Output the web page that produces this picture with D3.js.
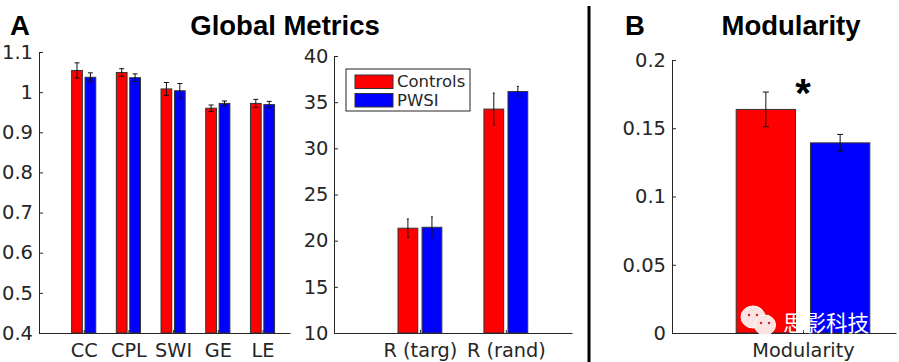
<!DOCTYPE html>
<html>
<head>
<meta charset="utf-8">
<script src="https://cdn.jsdelivr.net/npm/d3@7"></script>
<style>
  html, body { margin: 0; background: #fff; }
  svg { display: block; }
  .tick text { font-family: "DejaVu Sans"; fill: #262626; }
  .axis path, .axis line { stroke: #262626; }
  .title { font-family: "Liberation Sans"; font-weight: bold; font-size: 27.5px; fill: #000; text-anchor: middle; }
  .panel { font-family: "Liberation Sans"; font-weight: bold; font-size: 27.5px; fill: #000; }
</style>
</head>
<body>
<svg id="chart" width="899" height="362"></svg>
<script>
var groups = ['Controls', 'PWSI'];
var colors = ['#ff0000', '#0000ff'];

var metric_labels = ['CC', 'CPL', 'SWI', 'GE', 'LE'];
var metric_controls = [1.054, 1.049, 1.008, 0.960, 0.972];
var metric_controls_err = [0.019, 0.0095, 0.016, 0.008, 0.010];
var metric_pwsi = [1.037, 1.036, 1.0035, 0.972, 0.969];
var metric_pwsi_err = [0.011, 0.0095, 0.018, 0.006, 0.008];
var metric_ticks = [0.4, 0.5, 0.6, 0.7, 0.8, 0.9, 1, 1.1];

var r_labels = ['R (targ)', 'R (rand)'];
var r_controls = [21.35, 34.25];
var r_controls_err = [1.0, 1.73];
var r_pwsi = [21.45, 36.15];
var r_pwsi_err = [1.12, 0.56];
var r_ticks = [10, 15, 20, 25, 30, 35, 40];

var mod_labels = ['Modularity'];
var mod_controls = [0.1638];
var mod_controls_err = [0.0127];
var mod_pwsi = [0.1393];
var mod_pwsi_err = [0.0062];
var mod_ticks = [0, 0.05, 0.1, 0.15, 0.2];

var chart = d3.select('#chart');

// one matlab style bar axes, x is 1..n for the groups
function barPanel(opt) {
  var x = d3.scaleLinear().domain([0, opt.xMax]).range([opt.left, opt.right]);
  var y = d3.scaleLinear().domain(opt.yDomain).range([333, opt.top]);
  var g = chart.append('g');
  var tickVals = opt.labels.map(function (d, i) { return i + 1; });

  [[opt.controls, opt.controlsErr], [opt.pwsi, opt.pwsiErr]].forEach(function (s, k) {
    opt.labels.forEach(function (d, i) {
      var x0 = k === 0 ? x(i + 1 - opt.outer) : x(i + 1 + opt.inner);
      var x1 = k === 0 ? x(i + 1 - opt.inner) : x(i + 1 + opt.outer);
      g.append('rect')
        .attr('x', x0).attr('width', x1 - x0)
        .attr('y', y(s[0][i])).attr('height', 333 - y(s[0][i]))
        .attr('fill', colors[k]).attr('stroke', '#333').attr('stroke-width', 1);
      var cx = (x0 + x1) / 2;
      var top = y(s[0][i] + s[1][i]), bot = y(s[0][i] - s[1][i]);
      g.append('line').attr('x1', cx).attr('x2', cx).attr('y1', top).attr('y2', bot)
        .attr('stroke', '#111').attr('stroke-width', 1);
      [top, bot].forEach(function (v) {
        g.append('line').attr('x1', cx - opt.cap).attr('x2', cx + opt.cap).attr('y1', v).attr('y2', v)
          .attr('stroke', '#111').attr('stroke-width', 1);
      });
    });
  });

  var xAxis = d3.axisBottom(x).tickValues(tickVals)
    .tickFormat(function (d) { return opt.labels[d - 1]; })
    .tickSizeInner(-3).tickSizeOuter(0).tickPadding(10);
  var yAxis = d3.axisLeft(y).tickValues(opt.ticks).tickFormat(opt.format)
    .tickSizeInner(-4).tickSizeOuter(0).tickPadding(opt.yPad);

  var ax = g.append('g').attr('class', 'axis').attr('transform', 'translate(0,333)').call(xAxis);
  ax.selectAll('text').attr('font-size', 19.3);
  var ay = g.append('g').attr('class', 'axis').attr('transform', 'translate(' + opt.left + ',0)').call(yAxis);
  ay.selectAll('text').attr('font-size', 19.5);
  return { x: x, y: y };
}

barPanel({
  left: 39, right: 290, top: 52, xMax: 5.615, yDomain: [0.4, 1.1],
  labels: metric_labels, controls: metric_controls, controlsErr: metric_controls_err,
  pwsi: metric_pwsi, pwsiErr: metric_pwsi_err, ticks: metric_ticks,
  format: function (d) { return String(d); },
  outer: 0.27, inner: 0.03, cap: 2.5, yPad: 6
});

barPanel({
  left: 334, right: 572, top: 56, xMax: 2.77, yDomain: [10, 40],
  labels: r_labels, controls: r_controls, controlsErr: r_controls_err,
  pwsi: r_pwsi, pwsiErr: r_pwsi_err, ticks: r_ticks,
  format: function (d) { return String(d); },
  outer: 0.255, inner: 0.025, cap: 1, yPad: 5.5
});

barPanel({
  left: 672, right: 896, top: 60, xMax: 1.71, yDomain: [0, 0.2],
  labels: mod_labels, controls: mod_controls, controlsErr: mod_controls_err,
  pwsi: mod_pwsi, pwsiErr: mod_pwsi_err, ticks: mod_ticks,
  format: function (d) { return String(d); },
  outer: 0.51, inner: 0.057, cap: 3, yPad: 6
});

// titles and panel letters
chart.append('text').attr('class', 'title').attr('x', 285).attr('y', 35).text('Global Metrics');
chart.append('text').attr('class', 'title').attr('x', 791).attr('y', 35).text('Modularity');
chart.append('text').attr('class', 'panel').attr('x', 10).attr('y', 35).text('A');
chart.append('text').attr('class', 'panel').attr('x', 625).attr('y', 35).text('B');

// divider between the panels
chart.append('line').attr('x1', 589).attr('x2', 589).attr('y1', 6).attr('y2', 362)
  .attr('stroke', '#000').attr('stroke-width', 3);

// significance star
chart.append('text').attr('x', 803).attr('y', 107).attr('text-anchor', 'middle')
  .attr('font-family', 'Liberation Sans').attr('font-weight', 'bold').attr('font-size', 40)
  .text('*');

// legend
var legend = chart.append('g').attr('transform', 'translate(346,69)');
legend.append('rect').attr('width', 124).attr('height', 42)
  .attr('fill', '#fff').attr('stroke', '#262626').attr('stroke-width', 1);
groups.forEach(function (name, i) {
  legend.append('rect').attr('x', 9).attr('y', 6 + i * 18.5).attr('width', 38).attr('height', 13.5)
    .attr('fill', colors[i]).attr('stroke', '#333');
  legend.append('text').attr('x', 51).attr('y', 18 + i * 18.5)
    .attr('font-family', 'DejaVu Sans').attr('font-size', 16.5).attr('fill', '#262626')
    .text(name);
});

// wechat watermark
var mark = chart.append('g');
[[753, 317, 12, 11], [765, 325, 10.5, 10]].forEach(function (b) {
  mark.append('ellipse').attr('cx', b[0]).attr('cy', b[1]).attr('rx', b[2]).attr('ry', b[3])
    .attr('fill', '#fbe3e3').attr('stroke', '#fff').attr('stroke-width', 1);
  [-4, 4].forEach(function (dx) {
    mark.append('circle').attr('cx', b[0] + dx).attr('cy', b[1] - 2).attr('r', 1.2).attr('fill', '#d02020');
  });
});
chart.append('text').attr('x', 783).attr('y', 331)
  .attr('font-family', 'Noto Sans CJK SC').attr('font-size', 21.5).attr('fill', '#fff')
  .text('思影科技');
</script>
</body>
</html>
